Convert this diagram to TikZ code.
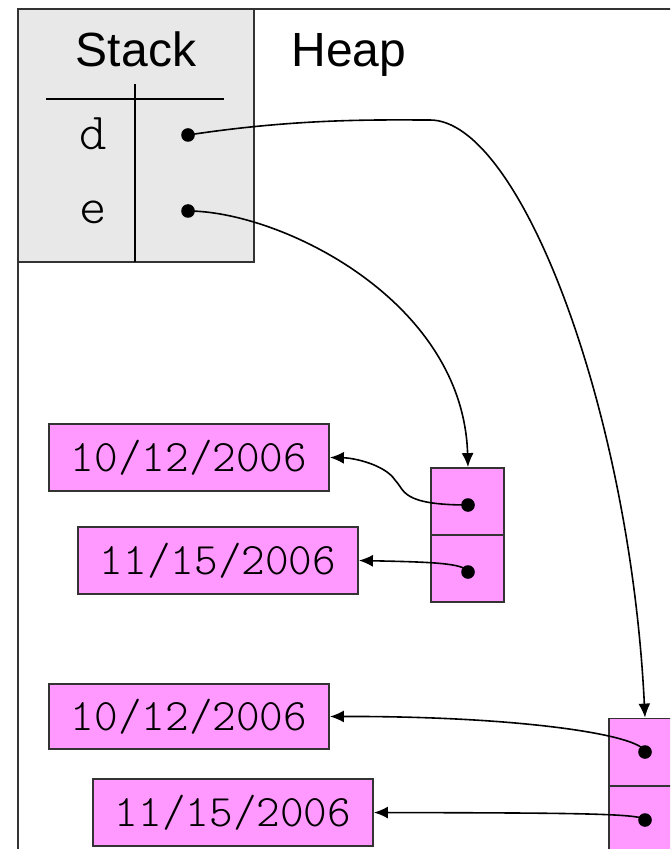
\documentclass[tikz,border=0pt]{standalone}
\usepackage{fontspec}
\setmainfont{Liberation Sans}
\newfontfamily\codefont{Latin Modern Mono Light}
\usetikzlibrary{arrows.meta}

\definecolor{stackgray}{HTML}{E8E8E8}
\definecolor{heappink}{HTML}{FF99FF}

\tikzset{
  frameline/.style={draw=black!80, line width=0.9pt},
  stackbox/.style={frameline, fill=stackgray, rectangle, inner sep=0pt,
    minimum width=118pt, minimum height=126.5pt},
  title/.style={font=\fontsize{24}{28}\selectfont, inner sep=0pt, anchor=base},
  varname/.style={font=\codefont\fontsize{26}{28}\selectfont, inner sep=0pt},
  datebox/.style={frameline, fill=heappink, rectangle, inner sep=0pt,
    minimum width=140pt, minimum height=33.5pt,
    font=\codefont\fontsize{22.5}{24}\selectfont},
  cell/.style={frameline, fill=heappink, rectangle, inner sep=0pt,
    minimum width=36.5pt, minimum height=33.5pt},
  ptr/.style={circle, fill=black, inner sep=0pt, minimum size=6.8pt},
  ref/.style={line width=0.8pt, -{Latex[length=7pt,width=6pt]}},
}

\begin{document}
\begin{tikzpicture}[x=0.5pt, y=-0.5pt]
  \useasboundingbox (0,0) rectangle (670,849);
  \clip (0,0) rectangle (670,849);

  % heap frame
  \draw[frameline] (680,9) -- (18,9) -- (18,860);

  % stack frame
  \node[stackbox] (stack) at (136,135.5) {};
  \node[title] (stacklbl) at (136,67) {Stack};
  \node[title] (heaplbl) at (349,67) {Heap};
  \draw[line width=0.7pt] (46,99) -- (224,99);
  \draw[line width=0.7pt] (135,84) -- (135,262);
  \node[varname] (vd) at (93,134) {d};
  \node[varname] (ve) at (93,212) {e};
  \node[ptr] (pd) at (188,135) {};
  \node[ptr] (pe) at (188,211) {};

  % first pair object (referenced by e)
  \node[cell] (a1) at (467.5,501.5) {};
  \node[cell] (a2) at (467.5,568.5) {};
  \node[ptr] (pa1) at (468,505) {};
  \node[ptr] (pa2) at (468,572) {};
  \node[datebox] (da1) at (189,457.5) {10/12/2006};
  \node[datebox] (da2) at (218,560.5) {11/15/2006};

  % second pair object (referenced by d)
  \node[cell] (b1) at (645.5,752) {};
  \node[cell] (b2) at (645.5,820) {};
  \node[ptr] (pb1) at (645,752) {};
  \node[ptr] (pb2) at (645,820) {};
  \node[datebox, minimum height=32.5pt] (db1) at (189,716.5) {10/12/2006};
  \node[datebox] (db2) at (233,812.5) {11/15/2006};

  % references from the stack
  \draw[ref] (pd.center) .. controls (300,118) and (380,120) .. (430,120)
    .. controls (520,120) and (630,410) .. (b1.north -| pb1);
  \draw[ref] (pe.center) .. controls (280,211) and (463,300) .. (a1.north -| pa1);

  % references from the pair objects to the dates
  \draw[ref] (pa1.center) .. controls (400,505) and (405,490) .. (395,480)
    .. controls (385,465) and (355,458) .. (da1.east);
  \draw[ref] (pa2.center) .. controls (465,563) and (430,562) .. (da2.east);
  \draw[ref] (pb1.center) .. controls (642,735) and (520,716) .. (db1.east);
  \draw[ref] (pb2.center) .. controls (643,813) and (560,813) .. (db2.east);
\end{tikzpicture}
\end{document}
